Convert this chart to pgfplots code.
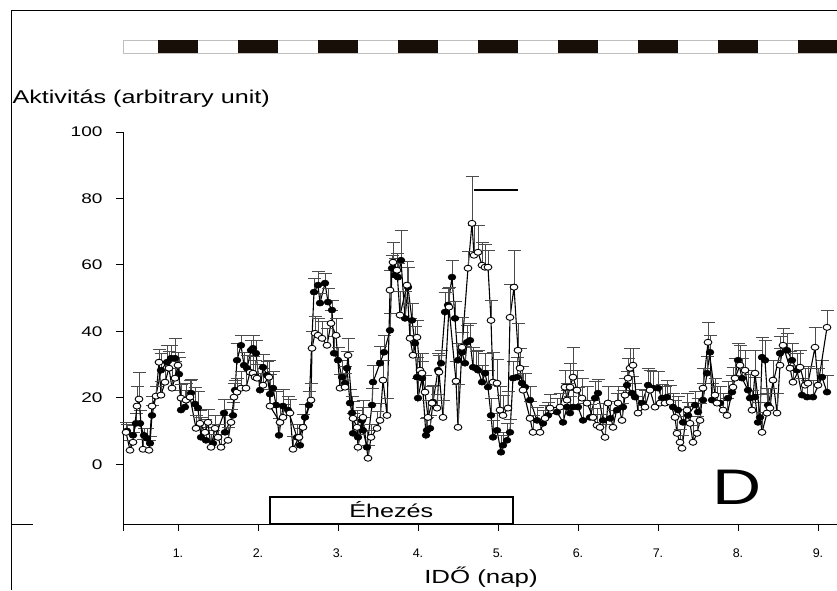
\documentclass[border=0pt]{standalone}
\usepackage{fontspec}
\setmainfont{Liberation Sans}
\usepackage{pgfplots}
\usepackage{pgfplotstable}
\pgfplotsset{compat=1.18}
\newcommand\sx[1]{\scalebox{1.36}[1]{#1}}

% t = time position (picture units), v = activity, e = upper error
\pgfplotstableread{
t v e
127 10.0 2
133 8.7 3
136 12.3 3
140 12.3 4
144 8.7 2
147 7.8 3
150 6.3 2
152 14.7 3
161 28.3 5
167 30.7 5
171 31.9 4
175 31.9 6
179 27.1 5
181 16.3 6
185 17.2 5
191 21.4 4
195 18.1 5
198 16.9 5
201 8.1 6
206 7.2 4
213 6.3 4
224 15.4 4
225 9.6 5
233 14.7 4
235 22.3 3
237 31.3 5
241 35.8 3
244 29.8 4
247 28.9 4
251 34.3 3
253 34.9 4
256 33.4 4
260 22.3 5
263 29.2 4
267 26.8 4
270 21.1 6
273 22.9 5
276 17.8 4
279 8.7 5
283 17.5 5
288 16.3 4
297 8.1 4
300 5.7 5
305 14.1 4
309 17.8 4
314 51.8 4
318 53.9 4
320 48.5 3
325 54.5 3
328 48.8 4
332 46.4 3
334 33.4 5
338 31.3 4
342 26.2 5
345 24.4 5
347 28.9 5
350 18.4 4
352 15.4 5
353 9.3 6
358 8.1 5
362 13.2 4
363 10.2 4
367 5.1 5
372 17.8 5
373 24.7 5
380 30.4 5
384 33.7 5
390 40.3 5
392 59.0 4
395 56.9 5
398 56.3 4
401 61.4 9
405 43.9 8
408 53.3 6
412 43.3 5
415 36.4 5
417 26.2 6
418 19.9 6
422 25.9 5
426 8.7 5
427 10.2 4
430 10.8 4
433 18.7 5
438 28.3 5
441 30.4 4
445 45.8 6
448 47.9 5
452 56.3 5
455 43.9 5
458 31.3 5
462 33.7 6
465 30.4 5
467 36.7 5
470 37.3 5
473 29.2 6
476 28.9 5
478 28.3 6
482 24.7 5
485 27.4 6
488 23.2 5
491 14.7 5
493 8.1 5
497 10.2 5
501 3.6 5
503 5.7 4
507 7.2 5
510 9.6 4
513 25.9 5
517 26.2 6
522 24.4 5
525 23.2 4
530 19.3 4
537 13.2 4
543 12.3 4
548 14.7 4
557 15.7 4
563 12.6 5
567 17.2 5
570 15.4 5
573 17.2 6
578 17.2 6
583 13.2 5
590 14.1 4
595 19.9 5
598 21.4 4
603 13.2 5
610 13.8 5
617 16.3 5
623 17.2 5
627 23.8 4
632 21.4 5
635 20.2 4
642 18.4 4
648 23.8 5
653 22.9 5
658 22.9 5
662 19.9 4
667 20.2 5
673 17.2 4
678 16.3 4
683 12.6 4
688 14.7 4
695 17.8 4
698 15.7 4
703 19.3 5
707 27.4 5
710 33.7 5
712 19.3 5
720 18.4 5
728 19.9 5
732 21.7 5
738 31.3 5
742 25.9 6
748 22.3 6
750 19.9 7
755 20.2 6
758 12.6 6
760 14.1 7
762 32.2 6
765 31.3 6
768 17.8 5
780 33.4 5
787 34.3 5
792 31.3 5
797 28.3 5
802 20.8 5
807 20.2 5
813 20.2 5
822 26.2 5
827 21.7 5
}\fedtable

\pgfplotstableread{
t v e
126 9.6 3
130 4.2 3
133 6.6 3
137 17.5 6
139 19.6 8
143 4.5 3
149 4.2 3
152 17.5 3
156 20.5 3
159 30.7 4
161 20.8 4
165 24.7 6
169 28.9 5
172 22.9 6
175 25.9 5
178 29.8 4
181 19.9 4
186 19.3 5
190 20.2 5
196 10.8 4
200 12.3 4
205 9.6 4
208 12.6 4
211 5.1 4
215 10.8 4
218 8.1 4
221 5.1 4
228 7.2 4
231 12.6 4
234 20.2 4
237 21.7 4
241 22.9 5
246 22.9 5
250 27.7 5
253 27.4 5
255 26.2 5
257 25.9 4
263 23.8 5
269 26.2 5
270 17.5 5
280 12.6 5
283 14.1 4
290 15.4 4
293 4.5 4
299 8.1 4
303 11.1 4
311 19.3 5
312 34.9 5
315 39.4 5
318 38.8 5
322 37.9 5
327 35.8 5
331 42.4 4
336 38.8 5
340 22.9 4
345 23.2 4
348 32.8 5
353 13.8 5
357 11.1 5
358 5.1 4
363 14.1 5
368 1.8 4
371 8.1 4
377 10.8 5
380 13.2 5
383 25.3 6
387 14.7 5
390 52.4 6
393 60.8 6
397 58.4 5
400 44.9 7
407 53.9 7
410 37.9 6
413 32.8 6
417 38.2 5
420 28.3 5
422 27.4 6
425 21.7 5
428 14.1 5
432 18.4 5
437 16.9 4
439 27.7 5
443 14.1 5
449 47.3 6
456 25.0 6
458 11.1 13
462 35.2 9
468 59.0 5
472 72.5 14
474 62.9 9
478 63.8 8
482 59.9 7
485 59.3 7
488 59.3 5
491 43.3 6
493 24.7 9
497 24.4 7
500 16.3 7
503 14.7 6
508 16.9 5
510 44.2 10
514 53.3 11
518 34.3 8
520 28.9 6
523 22.3 5
530 13.8 5
533 9.6 5
540 9.6 4
545 13.8 4
550 16.9 4
560 17.2 4
565 23.2 5
567 19.3 5
570 23.2 7
573 26.2 9
577 22.3 6
582 19.9 6
587 18.4 5
593 14.1 5
597 11.7 5
600 11.1 4
605 8.1 4
608 18.4 5
613 11.1 5
618 18.4 5
622 13.2 5
625 20.8 5
628 25.9 6
630 28.9 6
633 29.8 5
638 15.4 5
645 17.2 5
650 22.3 6
655 17.2 6
660 18.4 5
665 18.4 5
670 18.7 5
675 14.1 5
677 9.3 5
680 6.6 4
682 4.8 4
687 16.3 5
690 12.3 5
693 6.6 5
697 9.3 5
700 13.2 5
703 22.9 6
708 36.7 6
715 20.8 5
717 18.4 5
723 16.3 5
727 14.7 5
733 23.2 6
735 25.9 6
740 29.8 6
745 28.3 6
752 16.3 6
755 27.4 7
762 9.6 6
767 15.4 6
770 16.9 6
773 25.3 6
777 15.4 6
780 29.8 5
783 35.8 5
790 28.9 5
793 24.7 5
800 29.2 5
805 23.8 5
808 24.4 5
815 35.2 6
818 23.8 5
827 41.2 5
}\opentable

\begin{document}
\begin{tikzpicture}[x=1pt,y=1pt]
\useasboundingbox (0,0) rectangle (837,590);
\fill[white] (0,0) rectangle (837,590);
\draw[line width=0.9pt] (11,0) -- (11,580) -- (837,580);
\draw[line width=0.9pt] (11,66) -- (33,66);
\begin{axis}[
  at={(123pt,66pt)}, anchor=south west,
  scale only axis, width=714pt, height=392pt,
  xmin=7.5, xmax=221.7, ymin=-18, ymax=100,
  axis x line*=bottom, axis y line*=left,
  axis line style={line width=0.9pt},
  clip=false,
  tick align=outside, major tick length=7pt,
  tick style={black, line width=0.9pt},
  ytick={0,20,40,60,80,100},
  yticklabels={\sx{0},\sx{20},\sx{40},\sx{60},\sx{80},\sx{100}},
  yticklabel style={font=\fontsize{14}{14}\selectfont, xshift=-10pt},
  xtick={7.5,24,48,72,96,120,144,168,192,216},
  xticklabels={,1.,2.,3.,4.,5.,6.,7.,8.,9.},
  xticklabel style={font=\fontsize{12.5}{12.5}\selectfont, anchor=center, yshift=-22pt},
  error bars/y dir=plus, error bars/y explicit,
  error bars/error mark=-,
  error bars/error bar style={black!70, line width=0.8pt},
  error bars/error mark options={rotate=90, black!70, line width=0.8pt, mark size=6.5pt},
]
% light/dark bar
\draw[black!25, line width=0.8pt, fill=white] (axis cs:7.5,123.7) rectangle (axis cs:221.7,127.6);
\fill[black!88!brown] (axis cs:18,123.7) rectangle (axis cs:30,127.6);
\fill[black!88!brown] (axis cs:42,123.7) rectangle (axis cs:54,127.6);
\fill[black!88!brown] (axis cs:66,123.7) rectangle (axis cs:78,127.6);
\fill[black!88!brown] (axis cs:90,123.7) rectangle (axis cs:102,127.6);
\fill[black!88!brown] (axis cs:114,123.7) rectangle (axis cs:126,127.6);
\fill[black!88!brown] (axis cs:138,123.7) rectangle (axis cs:150,127.6);
\fill[black!88!brown] (axis cs:162,123.7) rectangle (axis cs:174,127.6);
\fill[black!88!brown] (axis cs:186,123.7) rectangle (axis cs:198,127.6);
\fill[black!88!brown] (axis cs:210,123.7) rectangle (axis cs:221.7,127.6);
% fasting box
\draw[line width=1.3pt, fill=white] (axis cs:51.6,-18) rectangle (axis cs:124.5,-9.9);
\node[font=\fontsize{18.5}{18.5}\selectfont] at (axis cs:88,-13.6) {\sx{Éhezés}};
% bar above peak
\draw[line width=1.8pt] (axis cs:112.8,82.5) -- (axis cs:126,82.5);
% panel letter
\node[font=\fontsize{50}{50}\selectfont] at (axis cs:191.7,-6.9) {\sx{D}};
% data
\addplot[black, line width=1.1pt, mark=*, mark size=3pt,
  mark options={xscale=1.3, fill=black, draw=black, line width=0.6pt}]
  table[x expr={0.3*(\thisrow{t}-98)}, y=v, y error=e] {\fedtable};
\addplot[black, line width=1.1pt, mark=*, mark size=3pt,
  mark options={xscale=1.3, fill=white, draw=black, line width=0.9pt}]
  table[x expr={0.3*(\thisrow{t}-98)}, y=v, y error=e] {\opentable};
\end{axis}
\node[anchor=west, font=\fontsize{18.5}{18.5}\selectfont] at (9,491) {\sx{Aktivitás (arbitrary unit)}};
\node[font=\fontsize{19}{19}\selectfont] at (481,13) {\sx{IDŐ (nap)}};
\end{tikzpicture}
\end{document}
